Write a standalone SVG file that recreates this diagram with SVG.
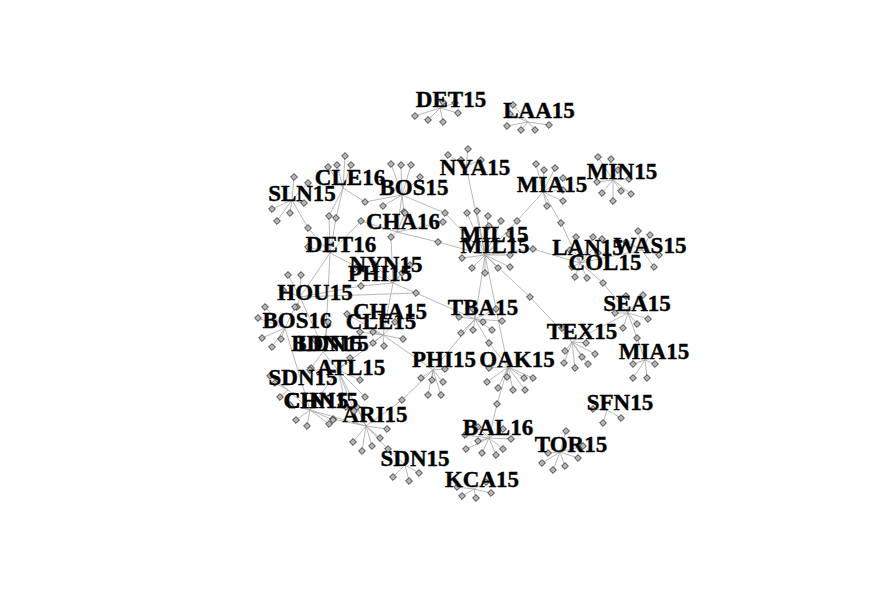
<svg xmlns="http://www.w3.org/2000/svg" xmlns:xlink="http://www.w3.org/1999/xlink" width="880" height="616" viewBox="0 0 880 616">
<style>
.e{fill:none;stroke:#a6a6a6;stroke-width:0.8}
.v{fill:#b4b4b4;stroke:#1a1a1a;stroke-width:0.8}
.l{font-family:"Liberation Serif","Times New Roman",serif;font-weight:700;font-size:23px;fill:#000;stroke:#000;stroke-width:0.4;text-anchor:middle}
</style>
<defs>
<path id="d" d="M0,-3.4L3.4,0L0,3.4L-3.4,0Z"/>
</defs>
<rect width="880" height="616" fill="#fff"/>
<g id="connectors" class="e">
<path d="M440,108L415,116M440,108L428,120M440,108L443,122M440,108L458,113M440,108L455,103M440,108L443,102"/>
<path d="M528,122L513,105M528,122L507,126M528,122L521,130M528,122L535,130M528,122L549,125M528,122L510,114"/>
<path d="M466,166L468,149M466,166L448,155M466,166L461,160M466,166L481,160M466,166L485,255"/>
<path d="M543,192L536,164M543,192L544,170M543,192L555,168M543,192L563,178M543,192L563,190M543,192L563,201M543,192L547,206M543,192L517,221L485,255M543,192L561,223L580,263"/>
<path d="M613,180L598,157M613,180L611,159M613,180L597,182M613,180L602,193M613,180L613,201M613,180L621,191M613,180L631,194M613,180L629,179M613,180L618,170"/>
<path d="M485,255L467,213M485,255L477,211M485,255L488,216M485,255L489,226M485,255L501,221M485,255L509,234M485,255L462,258M485,255L472,268M485,255L485,273M485,255L498,268M485,255L510,267M485,255L510,255M485,255L533,249L580,263M485,255L445,213L402,195M485,255L475,319M485,255L508,367M485,255L530,297L572,342"/>
<path d="M580,263L576,237M580,263L593,237M580,263L602,239M580,263L572,267M580,263L575,277M580,263L587,278M580,263L598,253M580,263L570,250M580,263L642,250M580,263L603,283L628,313"/>
<path d="M642,250L638,231M642,250L626,242M642,250L659,255M642,250L654,267M642,250L650,235"/>
<path d="M628,313L626,296M628,313L643,295M628,313L615,313M628,313L637,324M628,313L648,319M628,313L623,328M628,313L637,338L645,360M628,313L572,342"/>
<path d="M645,360L633,364M645,360L655,364M645,360L633,378M645,360L647,378"/>
<path d="M572,342L562,328M572,342L586,343M572,342L565,351M572,342L564,363M572,342L575,368M572,342L582,357M572,342L588,364M572,342L595,354"/>
<path d="M607,410L593,409M607,410L603,423M607,410L621,418"/>
<path d="M475,319L459,317M475,319L461,333M475,319L473,330M475,319L483,322M475,319L492,330M475,319L502,321M475,319L473,309M475,319L496,309M475,319L489,343L508,367M475,319L433,370M475,319L416,293L300,297"/>
<path d="M433,370L421,378M433,370L432,380M433,370L443,382M433,370L428,395M433,370L441,395M433,370L445,369M433,370L402,400L366,426"/>
<path d="M508,367L489,368M508,367L487,382M508,367L498,388M508,367L507,377M508,367L513,390M508,367L524,378M508,367L533,378M508,367L525,390M508,367L497,404L489,438"/>
<path d="M489,438L465,435M489,438L478,441M489,438L503,429M489,438L511,439M489,438L466,449M489,438L482,453M489,438L496,455M489,438L503,449M489,438L478,427"/>
<path d="M560,452L566,431M560,452L548,453M560,452L542,463M560,452L553,470M560,452L565,466M560,452L578,458M560,452L583,446"/>
<path d="M405,465L393,477M405,465L409,481M405,465L419,473"/>
<path d="M474,489L457,487M474,489L462,496M474,489L476,498M474,489L491,493M474,489L486,482"/>
<path d="M366,426L353,442M366,426L362,451M366,426L372,446M366,426L380,438M366,426L387,429M366,426L357,407M366,426L333,419M366,426L388,449L405,465"/>
<path d="M343,188L345,156M343,188L328,167M343,188L337,165M343,188L351,165M343,188L329,216L330,253M343,188L336,218L330,253M343,188L365,202L402,195"/>
<path d="M292,200L294,177M292,200L308,183M292,200L272,209M292,200L290,213M292,200L277,221M292,200L304,203M292,200L308,228L330,253"/>
<path d="M402,195L391,164M402,195L401,165M402,195L411,165M402,195L420,177M402,195L383,206M402,195L404,212M402,195L397,232"/>
<path d="M397,232L405,213M397,232L443,222M397,232L361,221L330,253M397,232L391,237L393,283M397,232L438,242L485,255"/>
<path d="M330,253L308,247M330,253L300,297M330,253L325,352M330,253L357,267L393,283"/>
<path d="M393,283L402,273M393,283L375,265M393,283L410,265M393,283L416,293M393,283L361,286L300,297M393,283L383,335"/>
<path d="M300,297L288,275M300,297L301,275M300,297L297,307M300,297L283,290M300,297L325,352"/>
<path d="M383,335L347,314M383,335L373,332M383,335L403,339M383,335L384,346M383,335L373,343M383,335L360,332M383,335L395,322M383,335L338,370M383,335L433,370"/>
<path d="M285,328L265,307M285,328L258,318M285,328L262,338M285,328L272,347M285,328L281,339M285,328L295,307M285,328L310,410"/>
<path d="M323,352L328,322M323,352L311,368M323,352L315,340M323,352L338,370"/>
<path d="M338,370L310,370M338,370L360,380M338,370L346,407M338,370L354,411M338,370L365,397M338,370L350,358M338,370L366,426M338,370L310,410"/>
<path d="M288,390L275,383M288,390L280,397M288,390L270,376M288,390L310,410"/>
<path d="M310,410L307,426M310,410L329,424M310,410L333,420M310,410L296,420M310,410L290,405M310,410L366,426"/>
</g>
<g id="DET15" class="v"><use href="#d" x="415" y="116"/><use href="#d" x="428" y="120"/><use href="#d" x="443" y="122"/><use href="#d" x="458" y="113"/><use href="#d" x="455" y="103"/><use href="#d" x="443" y="102"/><text class="l" x="451" y="107">DET15</text></g>
<g id="LAA15" class="v"><use href="#d" x="513" y="105"/><use href="#d" x="507" y="126"/><use href="#d" x="521" y="130"/><use href="#d" x="535" y="130"/><use href="#d" x="549" y="125"/><use href="#d" x="510" y="114"/><text class="l" x="539" y="118">LAA15</text></g>
<g id="NYA15" class="v"><use href="#d" x="468" y="149"/><use href="#d" x="448" y="155"/><use href="#d" x="461" y="160"/><use href="#d" x="481" y="160"/><text class="l" x="475" y="175">NYA15</text></g>
<g id="MIA15-top" class="v"><use href="#d" x="536" y="164"/><use href="#d" x="544" y="170"/><use href="#d" x="555" y="168"/><use href="#d" x="563" y="178"/><use href="#d" x="563" y="190"/><use href="#d" x="563" y="201"/><use href="#d" x="547" y="206"/><use href="#d" x="517" y="221"/><use href="#d" x="561" y="223"/><text class="l" x="552" y="192">MIA15</text></g>
<g id="MIN15" class="v"><use href="#d" x="598" y="157"/><use href="#d" x="611" y="159"/><use href="#d" x="597" y="182"/><use href="#d" x="602" y="193"/><use href="#d" x="613" y="201"/><use href="#d" x="621" y="191"/><use href="#d" x="631" y="194"/><use href="#d" x="629" y="179"/><use href="#d" x="618" y="170"/><text class="l" x="622" y="179">MIN15</text></g>
<g id="MIL15" class="v"><use href="#d" x="467" y="213"/><use href="#d" x="477" y="211"/><use href="#d" x="488" y="216"/><use href="#d" x="489" y="226"/><use href="#d" x="501" y="221"/><use href="#d" x="509" y="234"/><use href="#d" x="462" y="258"/><use href="#d" x="472" y="268"/><use href="#d" x="485" y="273"/><use href="#d" x="498" y="268"/><use href="#d" x="510" y="267"/><use href="#d" x="510" y="255"/><use href="#d" x="533" y="249"/><use href="#d" x="445" y="213"/><use href="#d" x="530" y="297"/><text class="l" x="494" y="242">MIL15</text><text class="l" x="495" y="253">MIL15</text></g>
<g id="LAN15-COL15" class="v"><use href="#d" x="576" y="237"/><use href="#d" x="593" y="237"/><use href="#d" x="602" y="239"/><use href="#d" x="572" y="267"/><use href="#d" x="575" y="277"/><use href="#d" x="587" y="278"/><use href="#d" x="598" y="253"/><use href="#d" x="570" y="250"/><use href="#d" x="603" y="283"/><text class="l" x="588" y="255">LAN15</text><text class="l" x="605" y="270">COL15</text></g>
<g id="WAS15" class="v"><use href="#d" x="638" y="231"/><use href="#d" x="626" y="242"/><use href="#d" x="659" y="255"/><use href="#d" x="654" y="267"/><use href="#d" x="650" y="235"/><text class="l" x="650" y="253">WAS15</text></g>
<g id="SEA15" class="v"><use href="#d" x="626" y="296"/><use href="#d" x="643" y="295"/><use href="#d" x="615" y="313"/><use href="#d" x="637" y="324"/><use href="#d" x="648" y="319"/><use href="#d" x="623" y="328"/><use href="#d" x="637" y="338"/><text class="l" x="637" y="311">SEA15</text></g>
<g id="MIA15-low" class="v"><use href="#d" x="633" y="364"/><use href="#d" x="655" y="364"/><use href="#d" x="633" y="378"/><use href="#d" x="647" y="378"/><text class="l" x="654" y="359">MIA15</text></g>
<g id="TEX15" class="v"><use href="#d" x="562" y="328"/><use href="#d" x="586" y="343"/><use href="#d" x="565" y="351"/><use href="#d" x="564" y="363"/><use href="#d" x="575" y="368"/><use href="#d" x="582" y="357"/><use href="#d" x="588" y="364"/><use href="#d" x="595" y="354"/><text class="l" x="582" y="339">TEX15</text></g>
<g id="SFN15" class="v"><use href="#d" x="593" y="409"/><use href="#d" x="603" y="423"/><use href="#d" x="621" y="418"/><text class="l" x="620" y="410">SFN15</text></g>
<g id="TBA15" class="v"><use href="#d" x="459" y="317"/><use href="#d" x="461" y="333"/><use href="#d" x="473" y="330"/><use href="#d" x="483" y="322"/><use href="#d" x="492" y="330"/><use href="#d" x="502" y="321"/><use href="#d" x="473" y="309"/><use href="#d" x="496" y="309"/><use href="#d" x="489" y="343"/><use href="#d" x="416" y="293"/><text class="l" x="483" y="315">TBA15</text></g>
<g id="PHI15-low" class="v"><use href="#d" x="421" y="378"/><use href="#d" x="432" y="380"/><use href="#d" x="443" y="382"/><use href="#d" x="428" y="395"/><use href="#d" x="441" y="395"/><use href="#d" x="445" y="369"/><use href="#d" x="402" y="400"/><text class="l" x="444" y="367">PHI15</text></g>
<g id="OAK15" class="v"><use href="#d" x="489" y="368"/><use href="#d" x="487" y="382"/><use href="#d" x="498" y="388"/><use href="#d" x="507" y="377"/><use href="#d" x="513" y="390"/><use href="#d" x="524" y="378"/><use href="#d" x="533" y="378"/><use href="#d" x="525" y="390"/><use href="#d" x="497" y="404"/><text class="l" x="517" y="367">OAK15</text></g>
<g id="BAL16" class="v"><use href="#d" x="465" y="435"/><use href="#d" x="478" y="441"/><use href="#d" x="503" y="429"/><use href="#d" x="511" y="439"/><use href="#d" x="466" y="449"/><use href="#d" x="482" y="453"/><use href="#d" x="496" y="455"/><use href="#d" x="503" y="449"/><use href="#d" x="478" y="427"/><text class="l" x="498" y="435">BAL16</text></g>
<g id="TOR15" class="v"><use href="#d" x="566" y="431"/><use href="#d" x="548" y="453"/><use href="#d" x="542" y="463"/><use href="#d" x="553" y="470"/><use href="#d" x="565" y="466"/><use href="#d" x="578" y="458"/><use href="#d" x="583" y="446"/><text class="l" x="571" y="452">TOR15</text></g>
<g id="SDN15-low" class="v"><use href="#d" x="393" y="477"/><use href="#d" x="409" y="481"/><use href="#d" x="419" y="473"/><text class="l" x="415" y="466">SDN15</text></g>
<g id="KCA15" class="v"><use href="#d" x="457" y="487"/><use href="#d" x="462" y="496"/><use href="#d" x="476" y="498"/><use href="#d" x="491" y="493"/><use href="#d" x="486" y="482"/><text class="l" x="482" y="487">KCA15</text></g>
<g id="ARI15" class="v"><use href="#d" x="353" y="442"/><use href="#d" x="362" y="451"/><use href="#d" x="372" y="446"/><use href="#d" x="380" y="438"/><use href="#d" x="387" y="429"/><use href="#d" x="357" y="407"/><use href="#d" x="333" y="419"/><use href="#d" x="388" y="449"/><text class="l" x="375" y="422">ARI15</text></g>
<g id="CLE16" class="v"><use href="#d" x="345" y="156"/><use href="#d" x="328" y="167"/><use href="#d" x="337" y="165"/><use href="#d" x="351" y="165"/><use href="#d" x="329" y="216"/><use href="#d" x="336" y="218"/><use href="#d" x="365" y="202"/><text class="l" x="350" y="185">CLE16</text></g>
<g id="SLN15" class="v"><use href="#d" x="294" y="177"/><use href="#d" x="308" y="183"/><use href="#d" x="272" y="209"/><use href="#d" x="290" y="213"/><use href="#d" x="277" y="221"/><use href="#d" x="304" y="203"/><use href="#d" x="308" y="228"/><text class="l" x="302" y="201">SLN15</text></g>
<g id="BOS15" class="v"><use href="#d" x="391" y="164"/><use href="#d" x="401" y="165"/><use href="#d" x="411" y="165"/><use href="#d" x="420" y="177"/><use href="#d" x="383" y="206"/><use href="#d" x="404" y="212"/><text class="l" x="414" y="195">BOS15</text></g>
<g id="CHA16" class="v"><use href="#d" x="405" y="213"/><use href="#d" x="443" y="222"/><use href="#d" x="361" y="221"/><use href="#d" x="391" y="237"/><use href="#d" x="438" y="242"/><text class="l" x="403" y="229">CHA16</text></g>
<g id="DET16" class="v"><use href="#d" x="308" y="247"/><use href="#d" x="357" y="267"/><text class="l" x="341" y="252">DET16</text></g>
<g id="NYN15-PHI15" class="v"><use href="#d" x="402" y="273"/><use href="#d" x="375" y="265"/><use href="#d" x="410" y="265"/><use href="#d" x="361" y="286"/><text class="l" x="386" y="272">NYN15</text><text class="l" x="380" y="281">PHI15</text></g>
<g id="HOU15" class="v"><use href="#d" x="288" y="275"/><use href="#d" x="301" y="275"/><use href="#d" x="297" y="307"/><use href="#d" x="283" y="290"/><text class="l" x="315" y="300">HOU15</text></g>
<g id="CHA15-CLE15" class="v"><use href="#d" x="347" y="314"/><use href="#d" x="373" y="332"/><use href="#d" x="403" y="339"/><use href="#d" x="384" y="346"/><use href="#d" x="373" y="343"/><use href="#d" x="360" y="332"/><use href="#d" x="395" y="322"/><text class="l" x="390" y="319">CHA15</text><text class="l" x="381" y="329">CLE15</text></g>
<g id="BOS16" class="v"><use href="#d" x="265" y="307"/><use href="#d" x="258" y="318"/><use href="#d" x="262" y="338"/><use href="#d" x="272" y="347"/><use href="#d" x="281" y="339"/><use href="#d" x="295" y="307"/><text class="l" x="297" y="328">BOS16</text></g>
<g id="BDN15-LDN15" class="v"><use href="#d" x="328" y="322"/><use href="#d" x="311" y="368"/><use href="#d" x="315" y="340"/><text class="l" x="327" y="351">BDN15</text><text class="l" x="333" y="351">LDN15</text></g>
<g id="ATL15" class="v"><use href="#d" x="310" y="370"/><use href="#d" x="360" y="380"/><use href="#d" x="346" y="407"/><use href="#d" x="354" y="411"/><use href="#d" x="365" y="397"/><use href="#d" x="350" y="358"/><text class="l" x="351" y="375">ATL15</text></g>
<g id="SDN15-left" class="v"><use href="#d" x="275" y="383"/><use href="#d" x="280" y="397"/><use href="#d" x="270" y="376"/><text class="l" x="303" y="385">SDN15</text></g>
<g id="CHN15-CIN15" class="v"><use href="#d" x="307" y="426"/><use href="#d" x="329" y="424"/><use href="#d" x="333" y="420"/><use href="#d" x="296" y="420"/><use href="#d" x="290" y="405"/><text class="l" x="321" y="408">CHN15</text><text class="l" x="316" y="408">CIN15</text></g>
</svg>
